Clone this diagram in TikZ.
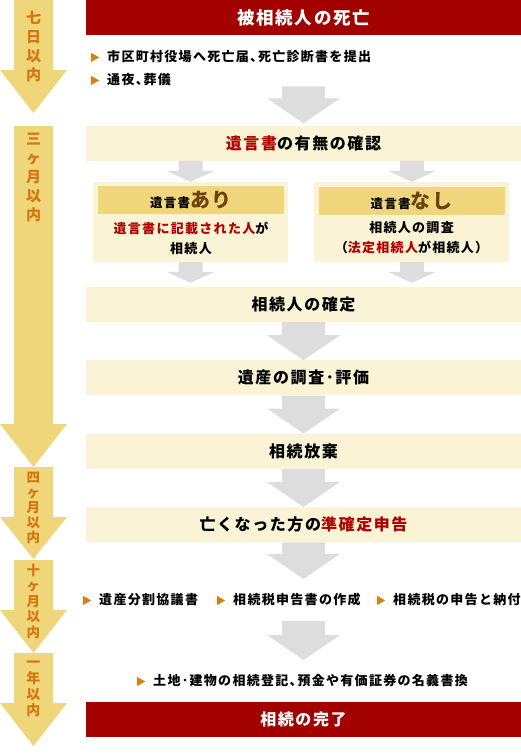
\documentclass[tikz,border=0pt]{standalone}
\usepackage{xcolor}
\usepackage{fontspec}
\setmainfont{Noto Sans CJK JP}[LetterSpace=10]
\newfontfamily\halfpunct{Noto Sans CJK JP}[LetterSpace=10, CharacterWidth=AlternateHalf]
\usetikzlibrary{positioning, calc}

\definecolor{deathred}{RGB}{163,0,0}
\definecolor{cream}{RGB}{250,243,214}
\definecolor{wheat}{RGB}{240,214,123}
\definecolor{timetext}{RGB}{214,118,12}
\definecolor{markorange}{RGB}{217,128,20}
\definecolor{hilite}{RGB}{176,0,0}
\definecolor{brownish}{RGB}{107,66,16}
\definecolor{arrowgray}{RGB}{221,221,221}

\newcommand{\hl}[1]{\textcolor{hilite}{#1}}
\newcommand{\mk}{\tikz\fill[markorange] (0pt,0pt) -- (0pt,9pt) -- (8pt,4.5pt) -- cycle;\hspace{8pt}}
% gray block arrow: half shaft, half head, head length, from, to
\newcommand{\blockarrow}[5]{%
  \fill[arrowgray] let \p1=(#4), \p2=(#5) in
    (\x2-#1,\y1) -- (\x2+#1,\y1) -- (\x2+#1,\y2+#3) -- (\x2+#2,\y2+#3)
    -- (\x2,\y2) -- (\x2-#2,\y2+#3) -- (\x2-#1,\y2+#3) -- cycle;}
\newcommand{\bigarrow}[2]{\blockarrow{21.5pt}{36.5pt}{25pt}{#1}{#2}}
\newcommand{\smallarrow}[2]{\blockarrow{12pt}{24pt}{11pt}{#1}{#2}}
% yellow time arrow: top, head start, tip
\newcommand{\timearrow}[3]{%
  \fill[wheat] (14,#1) -- (53,#1) -- (53,#2) -- (67,#2) -- (33.5,#3) -- (0,#2) -- (14,#2) -- cycle;}

\begin{document}
\begin{tikzpicture}[
    x=1pt, y=-1pt,
    node distance=38pt and 26pt,
    stepbox/.style={rectangle, fill=cream, inner sep=0, minimum width=435pt, minimum height=35pt,
      font=\bfseries\fontsize{16}{18}\selectfont},
    endbox/.style={stepbox, fill=deathred, text=white},
    casebox/.style={rectangle, fill=cream, inner sep=0, minimum width=195pt, minimum height=80pt},
    casehead/.style={rectangle, fill=wheat, inner sep=0, minimum width=186pt, minimum height=28pt,
      font=\bfseries\fontsize{12.5}{14}\selectfont},
    casetext/.style={align=center, inner sep=0, font=\bfseries\fontsize{13}{20}\selectfont},
    bullet/.style={anchor=west, inner sep=0, font=\halfpunct\bfseries\fontsize{13}{15}\selectfont},
    timelabel/.style={align=center, inner sep=0, text=timetext, font=\bfseries\fontsize{15}{19}\selectfont},
]
    \useasboundingbox (0,0) rectangle (521,755);

    % time line on the left
    \timearrow{0}{70}{113}
    \timearrow{126}{424}{467}
    \timearrow{467}{517}{559}
    \timearrow{560}{610}{653}
    \timearrow{653}{703}{746}
    \node[timelabel] (days7) at (33.5,46.5) {七\\日\\以\\内};
    \node[timelabel] (month3) at (33.5,178) {三\\ヶ\\月\\以\\内};
    \node[timelabel, font=\bfseries\fontsize{13.5}{15}\selectfont] (month4) at (33.5,508) {四\\ヶ\\月\\以\\内};
    \node[timelabel, font=\bfseries\fontsize{13.5}{15.5}\selectfont] (month10) at (33.5,601) {十\\ヶ\\月\\以\\内};
    \node[timelabel, font=\bfseries\fontsize{14}{16}\selectfont] (year1) at (33.5,689) {一\\年\\以\\内};

    % main flow
    \node[endbox, font=\bfseries\fontsize{17.5}{19}\selectfont] (death) at (303.5,17.5) {被相続人の死亡};
    \node[bullet] (notice) at (91,57) {\mk 市区町村役場へ死亡届、死亡診断書を提出};
    \node[bullet] (funeral) at (91,80) {\mk 通夜、葬儀};

    \node[stepbox] (will) at (303.5,143) {\hl{遺言書}の有無の確認};
    \node[casebox] (yes) at (190.5,222) {};
    \node[casebox, right=of yes] (no) {};
    \node[casehead] (yeshead) at (191,200) {遺言書{\fontsize{20}{22}\selectfont\textcolor{brownish}{あり}}};
    \node[casehead] (nohead) at (411.5,201) {遺言書{\fontsize{20}{22}\selectfont\textcolor{brownish}{なし}}};
    \node[casetext] (yestext) at (191,238) {\hl{遺言書に記載された人}が\\相続人};
    \node[casetext] (notext) at (411.5,238) {相続人の調査\\（\hl{法定相続人}が相続人）};

    \node[stepbox] (heirs) at (303.5,304.5) {相続人の確定};
    \node[stepbox, below=of heirs] (estate) {遺産の調査･評価};
    \node[stepbox, below=of estate] (renounce) {相続放棄};
    \node[stepbox, below=of renounce] (taxreturn) {亡くなった方の\hl{準確定申告}};

    \node[bullet] (division) at (83,600) {\mk 遺産分割協議書};
    \node[bullet] (taxdoc) at (217,600) {\mk 相続税申告書の作成};
    \node[bullet] (taxpay) at (377,600) {\mk 相続税の申告と納付};
    \node[bullet] (transfer) at (137,681) {\mk 土地･建物の相続登記、預金や有価証券の名義書換};

    \node[endbox] (done) at (303.5,719.5) {相続の完了};

    % arrows
    \coordinate (tip5) at (303.5,579);
    \coordinate (top6) at (303.5,621);
    \coordinate (tip6) at (303.5,660);
    \bigarrow{funeral.south}{[yshift=2pt]will.north}
    \smallarrow{will.south}{yes.north}
    \smallarrow{will.south}{no.north}
    \smallarrow{yes.south}{[yshift=4pt]heirs.north -| yes.south}
    \smallarrow{no.south}{[yshift=4pt]heirs.north -| no.south}
    \bigarrow{heirs.south}{estate.north}
    \bigarrow{estate.south}{renounce.north}
    \bigarrow{renounce.south}{taxreturn.north}
    \bigarrow{taxreturn.south}{tip5}
    \bigarrow{top6}{tip6}
\end{tikzpicture}
\end{document}
